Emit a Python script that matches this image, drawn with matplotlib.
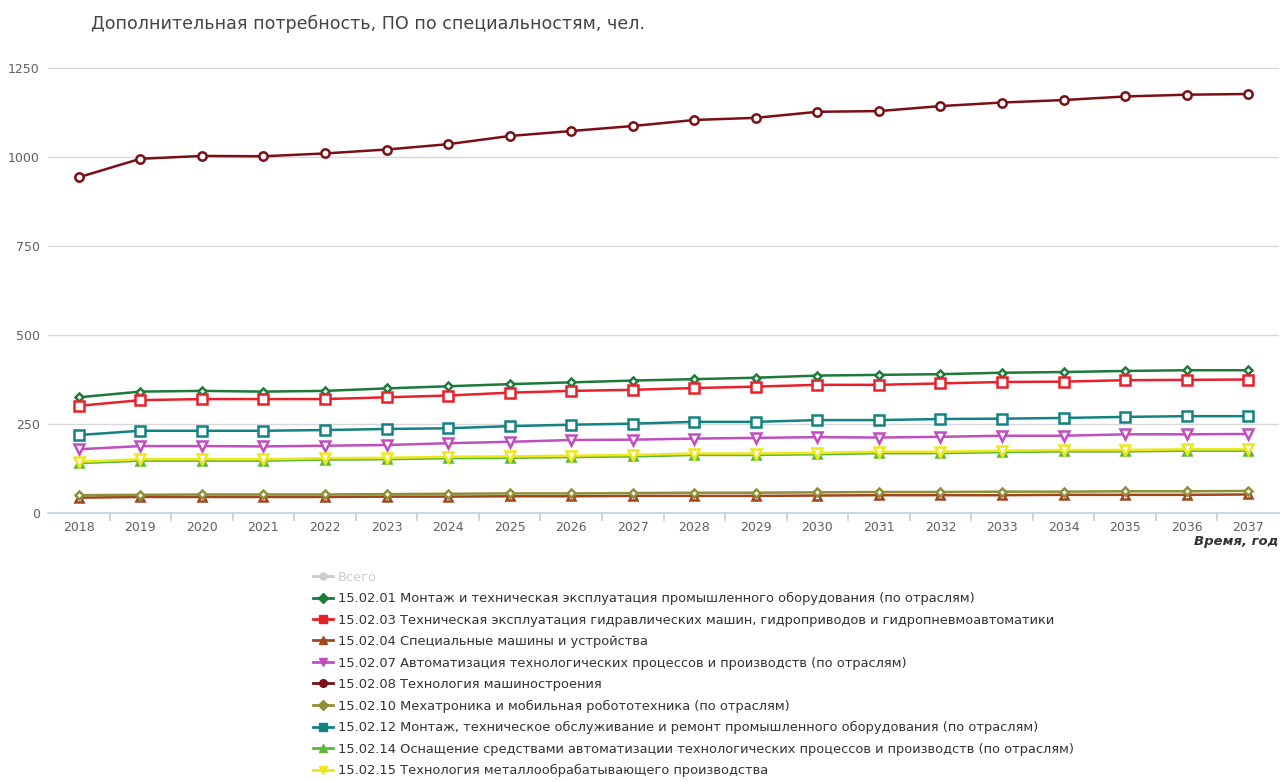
import matplotlib
matplotlib.use("Agg")
import matplotlib.pyplot as plt
from matplotlib.lines import Line2D

plt.rcParams["font.family"] = ["DejaVu Sans"]

# =========================
# Data
# =========================
years = [str(y) for y in range(2018, 2038)]

labels = [
    "15.02.01 Монтаж и техническая эксплуатация промышленного оборудования (по отраслям)",
    "15.02.03 Техническая эксплуатация гидравлических машин, гидроприводов и гидропневмоавтоматики",
    "15.02.04 Специальные машины и устройства",
    "15.02.07 Автоматизация технологических процессов и производств (по отраслям)",
    "15.02.08 Технология машиностроения",
    "15.02.10 Мехатроника и мобильная робототехника (по отраслям)",
    "15.02.12 Монтаж, техническое обслуживание и ремонт промышленного оборудования (по отраслям)",
    "15.02.14 Оснащение средствами автоматизации технологических процессов и производств (по отраслям)",
    "15.02.15 Технология металлообрабатывающего производства",
]

s_01 = [325, 341, 343, 341, 343, 350, 356, 362, 367, 372, 376, 380, 386, 388, 390, 394, 396, 399, 401, 401]
s_03 = [301, 317, 320, 320, 320, 325, 330, 338, 343, 346, 351, 355, 360, 360, 364, 368, 369, 373, 374, 375]
s_04 = [43, 45, 45, 45, 45, 46, 46, 47, 47, 48, 48, 48, 49, 50, 50, 50, 51, 51, 51, 52]
s_07 = [179, 188, 188, 187, 189, 191, 196, 200, 205, 206, 209, 211, 213, 212, 214, 217, 217, 221, 221, 222]
s_08 = [943, 995, 1003, 1002, 1010, 1021, 1036, 1059, 1073, 1087, 1104, 1110, 1127, 1129, 1143, 1153, 1160, 1170, 1175, 1177]
s_10 = [50, 51, 52, 52, 52, 53, 54, 55, 55, 56, 57, 57, 58, 59, 59, 60, 60, 61, 61, 62]
s_12 = [219, 231, 231, 231, 233, 236, 238, 244, 248, 251, 256, 256, 261, 261, 264, 265, 267, 270, 272, 272]
s_14 = [140, 147, 147, 147, 150, 151, 154, 155, 157, 159, 163, 163, 165, 168, 168, 171, 173, 173, 175, 175]
s_15 = [144, 151, 151, 151, 154, 155, 158, 159, 161, 163, 167, 167, 169, 172, 172, 175, 177, 177, 179, 179]

series = [s_01, s_03, s_04, s_07, s_08, s_10, s_12, s_14, s_15]
colors = ["#1c7a3a", "#e8202a", "#a0461e", "#c04ec0", "#7a0f16",
          "#8e8f38", "#138282", "#5cb83a", "#ece81c"]
markers = ["D", "s", "^", "v", "o", "D", "s", "^", "v"]
msizes = [4.5, 6.5, 5.5, 6.5, 6, 4.5, 6.5, 5.5, 6.5]

# draw order: lower z for background series
zorders = [5, 5, 4, 5, 6, 5, 5, 4, 5]

# =========================
# Figure
# =========================
fig = plt.figure(figsize=(12.8, 7.82), dpi=100)
ax = fig.add_axes([48 / 1280, 1 - 513 / 782, 1231 / 1280, (513 - 68) / 782])

x = list(range(len(years)))
for vals, c, m, ms, z in zip(series, colors, markers, msizes, zorders):
    ax.plot(x, vals, color=c, lw=1.8, marker=m, markersize=ms,
            markerfacecolor="white", markeredgecolor=c, markeredgewidth=1.8,
            zorder=z, clip_on=False)

ax.set_xlim(-0.5, len(years) - 0.5)
ax.set_ylim(0, 1250)
ax.set_yticks([0, 250, 500, 750, 1000, 1250])
ax.set_xticks(x)
ax.set_xticklabels(years)
ax.set_xticks([i + 0.5 for i in x[:-1]], minor=True)

ax.grid(axis="y", color="#d8d8d8", lw=1)
ax.set_axisbelow(True)
for side in ["top", "right", "left"]:
    ax.spines[side].set_visible(False)
ax.spines["bottom"].set_color("#c0d0e0")
ax.spines["bottom"].set_linewidth(1.2)

ax.tick_params(axis="y", length=0, pad=6, labelsize=9, labelcolor="#606060")
ax.tick_params(axis="x", which="major", length=0, pad=6, labelsize=9, labelcolor="#606060")
ax.tick_params(axis="x", which="minor", length=6, color="#c0d0e0", width=1.2)

fig.text(1278 / 1280, 1 - 541 / 782, "Время, год", ha="right", va="center",
         fontsize=9.5, fontweight="bold", fontstyle="italic", color="#333333")

fig.text(91 / 1280, 1 - 24 / 782, "Дополнительная потребность, ПО по специальностям, чел.",
         ha="left", va="center", fontsize=12.6, color="#444444")

# =========================
# Legend
# =========================
handles = [Line2D([0], [0], color="#cccccc", lw=2, marker="o", markersize=5,
                  markerfacecolor="#cccccc", markeredgecolor="#cccccc")]
for c, m in zip(colors, markers):
    handles.append(Line2D([0], [0], color=c, lw=2, marker=m, markersize=5.5,
                          markerfacecolor=c, markeredgecolor=c))
leg = fig.legend(handles, ["Всего"] + labels, loc="upper left",
                 bbox_to_anchor=(306 / 1280, 1 - 564 / 782), frameon=False,
                 fontsize=9.4, handlelength=1.6, handletextpad=0.35,
                 labelspacing=0.65, borderpad=0)
for i, t in enumerate(leg.get_texts()):
    t.set_color("#cccccc" if i == 0 else "#333333")

fig.savefig("out.png", dpi=100)
